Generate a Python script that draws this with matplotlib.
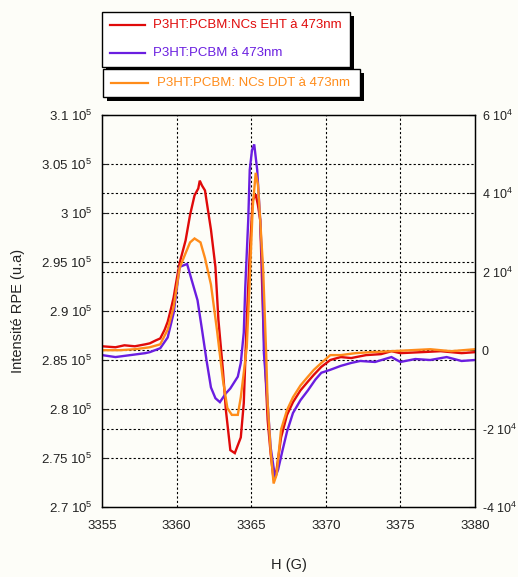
import matplotlib.pyplot as plt
from matplotlib.patches import Rectangle
from matplotlib.lines import Line2D
import numpy as np

plt.rcParams['font.family'] = ['Liberation Sans', 'DejaVu Sans']
plt.rcParams['mathtext.fontset'] = 'custom'
plt.rcParams['mathtext.rm'] = 'Liberation Sans'
plt.rcParams['mathtext.default'] = 'regular'

# champ H (G) et intensite RPE (en unites de 1e5)
h_eht = [3355.0, 3355.9, 3356.5, 3357.2, 3357.9, 3358.2, 3358.6, 3358.9, 3359.2, 3359.4,
         3359.6, 3359.8, 3360.0, 3360.2, 3360.6, 3360.9, 3361.2, 3361.45, 3361.55, 3361.7,
         3361.9, 3362.3, 3362.6, 3362.8, 3363.1, 3363.3, 3363.6, 3363.9, 3364.3, 3364.5,
         3364.7, 3364.9, 3365.1, 3365.3, 3365.45, 3365.6, 3365.8, 3366.0, 3366.1, 3366.3,
         3366.5, 3366.7, 3367.0, 3367.4, 3367.8, 3368.3, 3368.8, 3369.2, 3369.7, 3370.3,
         3371.0, 3371.7, 3372.7, 3373.7, 3374.4, 3375.0, 3376.4, 3377.7, 3379.1, 3380.0]
i_eht = [2.864, 2.863, 2.865, 2.864, 2.866, 2.867, 2.870, 2.872, 2.881, 2.889,
         2.901, 2.914, 2.932, 2.949, 2.972, 2.998, 3.018, 3.025, 3.033, 3.028,
         3.023, 2.983, 2.945, 2.891, 2.840, 2.799, 2.758, 2.755, 2.771, 2.806,
         2.891, 2.959, 3.013, 3.019, 3.008, 2.993, 2.891, 2.822, 2.789, 2.755,
         2.728, 2.738, 2.771, 2.794, 2.807, 2.819, 2.828, 2.835, 2.843, 2.850,
         2.853, 2.852, 2.855, 2.856, 2.859, 2.857, 2.858, 2.859, 2.857, 2.858]

h_ref = [3355.0, 3355.9, 3356.9, 3357.9, 3358.2, 3358.9, 3359.4, 3359.8, 3360.2, 3360.7,
         3361.0, 3361.4, 3361.7, 3362.0, 3362.3, 3362.6, 3362.9, 3363.3, 3363.6, 3364.1,
         3364.3, 3364.5, 3364.6, 3364.8, 3364.9, 3365.05, 3365.2, 3365.4, 3365.6, 3365.75,
         3365.85, 3366.1, 3366.3, 3366.6, 3366.8, 3367.1, 3367.4, 3367.8, 3368.3, 3368.8,
         3369.3, 3369.7, 3370.3, 3371.0, 3371.7, 3372.3, 3373.3, 3374.4, 3375.0, 3376.0,
         3377.0, 3378.1, 3379.1, 3380.0]
i_ref = [2.855, 2.853, 2.855, 2.857, 2.858, 2.862, 2.873, 2.898, 2.945, 2.948,
         2.932, 2.911, 2.881, 2.850, 2.822, 2.811, 2.807, 2.816, 2.821, 2.833,
         2.847, 2.878, 2.924, 2.993, 3.044, 3.064, 3.070, 3.044, 2.993, 2.942,
         2.857, 2.806, 2.761, 2.730, 2.738, 2.758, 2.777, 2.796, 2.809, 2.819,
         2.830, 2.837, 2.840, 2.844, 2.847, 2.849, 2.848, 2.853, 2.848, 2.851,
         2.850, 2.853, 2.849, 2.850]

h_ddt = [3355.0, 3356.2, 3357.2, 3358.2, 3358.9, 3359.4, 3359.8, 3360.2, 3360.6, 3360.9,
         3361.2, 3361.6, 3361.9, 3362.3, 3362.7, 3363.1, 3363.4, 3363.7, 3364.1, 3364.3,
         3364.5, 3364.7, 3364.9, 3365.1, 3365.3, 3365.45, 3365.6, 3365.8, 3366.0, 3366.1,
         3366.3, 3366.5, 3366.7, 3367.0, 3367.4, 3367.8, 3368.3, 3368.8, 3369.2, 3369.7,
         3370.3, 3371.0, 3372.0, 3373.0, 3374.4, 3375.7, 3377.0, 3378.4, 3380.0]
i_ddt = [2.860, 2.860, 2.861, 2.863, 2.866, 2.881, 2.904, 2.944, 2.959, 2.970,
         2.974, 2.970, 2.954, 2.927, 2.881, 2.830, 2.801, 2.794, 2.794, 2.812,
         2.837, 2.863, 2.932, 3.006, 3.041, 3.029, 2.993, 2.942, 2.857, 2.806,
         2.758, 2.724, 2.733, 2.779, 2.799, 2.812, 2.824, 2.833, 2.840, 2.847,
         2.855, 2.855, 2.857, 2.858, 2.859, 2.860, 2.861, 2.859, 2.861]

labels = ['P3HT:PCBM:NCs EHT à 473nm', 'P3HT:PCBM à 473nm', 'P3HT:PCBM: NCs DDT à 473nm']
colors = ['#e00a0a', '#6a1ee0', '#ff8c1a']

left_ticks = [2.7, 2.75, 2.8, 2.85, 2.9, 2.95, 3.0, 3.05, 3.1]
left_labels = ['2.7 10$^5$', '2.75 10$^5$', '2.8 10$^5$', '2.85 10$^5$', '2.9 10$^5$',
               '2.95 10$^5$', '3 10$^5$', '3.05 10$^5$', '3.1 10$^5$']
right_ticks = [-4e4, -2e4, 0, 2e4, 4e4, 6e4]
right_labels = ['-4 10$^4$', '-2 10$^4$', '0', '2 10$^4$', '4 10$^4$', '6 10$^4$']
x_ticks = [3355, 3360, 3365, 3370, 3375, 3380]

bg = '#fdfdf8'
txt_c = '#222222'
fig = plt.figure(figsize=(5.18, 5.77), dpi=100, facecolor=bg)
ax2 = fig.add_axes([0.197, 0.1213, 0.72, 0.6794])
ax = ax2.twinx()
ax.yaxis.tick_left()
ax2.yaxis.tick_right()
ax.set_zorder(2)
ax.patch.set_visible(False)
ax2.set_facecolor(bg)

grid_kw = dict(color='black', linestyle=(0, (2, 2)), linewidth=0.8)

for h, i, c in zip([h_eht, h_ref, h_ddt], [i_eht, i_ref, i_ddt], colors):
    ax.plot(np.array(h), np.array(i) * 1e5, color=c, lw=1.7, solid_joinstyle='miter')

ax.set_xlim(3355, 3380)
ax.set_ylim(2.7e5, 3.1e5)
ax.set_yticks(np.array(left_ticks) * 1e5)
ax.set_yticklabels(left_labels)
ax2.set_ylim(-4e4, 6e4)
ax2.set_yticks(right_ticks)
ax2.set_yticklabels(right_labels)
ax2.set_xlim(3355, 3380)
ax2.set_xticks(x_ticks)

# grilles pointillees
for y in left_ticks[1:-1]:
    ax2.axhline((y - 2.7) / 0.4 * 10e4 - 4e4, zorder=0, **grid_kw)
for y in right_ticks[1:-1]:
    ax2.axhline(y, zorder=0, **grid_kw)
for x in x_ticks[1:-1]:
    ax2.axvline(x, zorder=0, **grid_kw)

ax.tick_params(axis='y', direction='in', length=4, pad=7, labelsize=9.5, colors=txt_c)
ax2.tick_params(axis='x', direction='in', length=0, pad=9, labelsize=9.5, colors=txt_c)
ax2.tick_params(axis='y', direction='in', length=4, pad=5, labelsize=9, colors=txt_c)
for s in ax.spines.values():
    s.set_linewidth(1.0)

ax2.set_xlabel('H (G)', fontsize=10.5, labelpad=19, color=txt_c)
fig.text(0.035, 0.4605, 'Intensité RPE (u.a)', rotation=90, fontsize=10.5,
         ha='center', va='center', color=txt_c)

# legende en deux boites avec ombre
W, H = 518, 577


def box(x0, y0, x1, y1):
    fig.add_artist(Rectangle((x0 / W + 4 / W, 1 - (y1 + 4) / H), (x1 - x0) / W, (y1 - y0) / H,
                             transform=fig.transFigure, facecolor='black', edgecolor='none'))
    fig.add_artist(Rectangle((x0 / W, 1 - y1 / H), (x1 - x0) / W, (y1 - y0) / H,
                             transform=fig.transFigure, facecolor='white', edgecolor='black', lw=1))


def entry(x0, x1, xt, y, c, txt):
    fig.add_artist(Line2D([x0 / W, x1 / W], [1 - y / H, 1 - y / H], transform=fig.transFigure,
                          color=c, lw=1.6))
    fig.text(xt / W, 1 - y / H, txt, color=c, fontsize=9.5, va='center', ha='left')


box(102, 12, 350, 67)
entry(110, 145, 153, 25, colors[0], labels[0])
entry(110, 145, 153, 53, colors[1], labels[1])
box(103, 69, 360, 97)
entry(111, 148, 157, 83, colors[2], labels[2])

fig.savefig('out.png', dpi=100, facecolor=bg)
